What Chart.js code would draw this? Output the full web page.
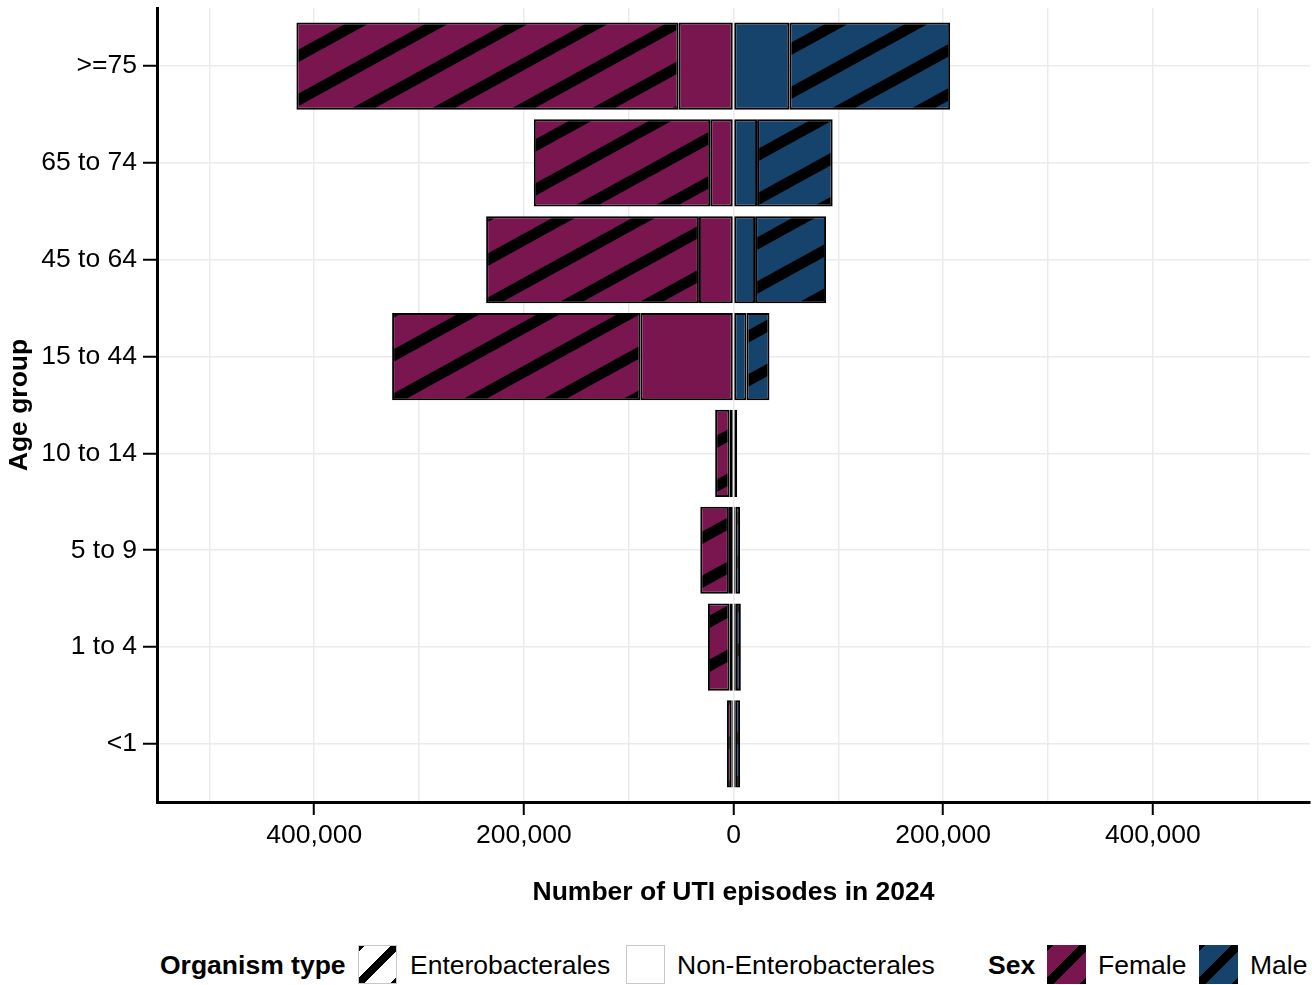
<!DOCTYPE html>
<html>
<head>
<meta charset="utf-8">
<script src="https://cdn.jsdelivr.net/npm/chart.js@4/dist/chart.umd.min.js"></script>
<style>
  body { margin: 0; background: #fff; font-family: "Liberation Sans", Arial, sans-serif; }
  #wrap { position: relative; width: 1312px; height: 985px; overflow: hidden; }
  #box { position: absolute; left: 0; top: 0; width: 1312px; height: 930px; }
  .lg { position: absolute; top: 945px; height: 40px; line-height: 40px; font-size: 26.5px; color: #000; white-space: nowrap; }
  .b { font-weight: bold; }
  .sw { position: absolute; top: 945px; width: 39px; height: 39px; box-sizing: border-box; }
</style>
</head>
<body>
<div id="wrap">
  <div id="box"><canvas id="myChart"></canvas></div>
  <span class="lg b" style="left:160px">Organism type</span>
  <div class="sw" style="left:358px;border:1px solid #c8c8c8;background:linear-gradient(to bottom right,#000 0 8%,#fff 8% 42%,#000 42% 58%,#fff 58% 92%,#000 92%)"></div>
  <span class="lg" style="left:410px">Enterobacterales</span>
  <div class="sw" style="left:626px;border:1px solid #c8c8c8;background:#fff"></div>
  <span class="lg" style="left:677px">Non-Enterobacterales</span>
  <span class="lg b" style="left:988px">Sex</span>
  <div class="sw" style="left:1047px;background:linear-gradient(to bottom right,#000 0 8%,#7a164f 8% 42%,#000 42% 58%,#7a164f 58% 92%,#000 92%)"></div>
  <span class="lg" style="left:1098px">Female</span>
  <div class="sw" style="left:1199px;background:linear-gradient(to bottom right,#000 0 8%,#16436b 8% 42%,#000 42% 58%,#16436b 58% 92%,#000 92%)"></div>
  <span class="lg" style="left:1250px">Male</span>
</div>
<script>
// age groups, bottom to top
const ages = ['<1', '1 to 4', '5 to 9', '10 to 14', '15 to 44', '45 to 64', '65 to 74', '>=75']

// number of UTI episodes (female drawn to the left)
const femaleNonEntero = [1700, 3800, 4400, 3800, 88900, 33000, 22200, 52400]
const femaleEntero = [4600, 20600, 27300, 13700, 236800, 203000, 168300, 364600]
const maleNonEntero = [1600, 2200, 1900, 800, 12400, 20600, 22500, 53300]
const maleEntero = [4700, 4800, 4400, 2700, 21900, 67700, 72100, 153400]

const xGridValues = [-500000, -400000, -300000, -200000, -100000, 0, 100000, 200000, 300000, 400000, 500000]

const femaleColor = '#7a164f'
const maleColor = '#16436b'
const fontFamily = '"Liberation Sans", Arial, sans-serif'

var ctx = document.getElementById('myChart').getContext('2d');

// diagonal stripes like the ggpattern fill
const makeHatch = color => {
  let tile = document.createElement('canvas')
  tile.width = 80
  tile.height = 44
  let g = tile.getContext('2d')
  g.fillStyle = color
  g.fillRect(0, 0, 80, 44)
  g.strokeStyle = '#000'
  g.lineWidth = 11
  ;[-1, 0, 1].forEach(k => {
    g.beginPath()
    g.moveTo(k * 80 - 40, 66)
    g.lineTo(k * 80 + 120, -22)
    g.stroke()
  })
  return ctx.createPattern(tile, 'repeat')
}

const toPoints = (values, sign) => values.map((v, i) => ({ y: i, x: sign * v }))

const barStyle = {
  borderColor: '#000',
  borderWidth: 2,
  borderSkipped: false,
  barPercentage: 0.9,
  categoryPercentage: 1
}

var chart = new Chart(ctx, {
  type: 'bar',
  data: {
    datasets: [
      Object.assign({ label: 'Female Non-Enterobacterales', data: toPoints(femaleNonEntero, -1), backgroundColor: femaleColor }, barStyle),
      Object.assign({ label: 'Female Enterobacterales', data: toPoints(femaleEntero, -1), backgroundColor: makeHatch(femaleColor) }, barStyle),
      Object.assign({ label: 'Male Non-Enterobacterales', data: toPoints(maleNonEntero, 1), backgroundColor: maleColor }, barStyle),
      Object.assign({ label: 'Male Enterobacterales', data: toPoints(maleEntero, 1), backgroundColor: makeHatch(maleColor) }, barStyle)
    ]
  },
  options: {
    indexAxis: 'y',
    responsive: true,
    maintainAspectRatio: false,
    animation: false,
    layout: { padding: { top: 8, right: 2, left: 0, bottom: 0 } },
    plugins: {
      legend: { display: false },
      tooltip: { enabled: false }
    },
    scales: {
      x: {
        type: 'linear',
        stacked: true,
        min: -550000,
        max: 550000,
        afterBuildTicks: scale => { scale.ticks = xGridValues.map(v => ({ value: v })) },
        afterFit: scale => {
          scale.height = 128
          scale.paddingLeft = 0
          scale.paddingRight = 0
        },
        ticks: {
          autoSkip: false,
          maxRotation: 0,
          padding: 5,
          color: '#000',
          font: { family: fontFamily, size: 26.5 },
          callback: v => v % 200000 === 0 ? Math.abs(v).toLocaleString('en-US') : ''
        },
        grid: {
          color: '#ebebeb',
          lineWidth: 1.5,
          tickLength: 13,
          tickWidth: 2,
          tickColor: c => (c.tick && c.tick.value % 200000 === 0) ? '#000' : 'rgba(0,0,0,0)'
        },
        border: { color: '#000', width: 3 },
        title: {
          display: true,
          text: 'Number of UTI episodes in 2024',
          color: '#000',
          font: { family: fontFamily, size: 26.5, weight: 'bold' },
          padding: { top: 0, bottom: 21 }
        }
      },
      y: {
        type: 'linear',
        stacked: true,
        min: -0.6,
        max: 7.6,
        offset: false,
        afterBuildTicks: scale => { scale.ticks = ages.map((a, i) => ({ value: i })) },
        afterFit: scale => {
          scale.width = 157
          scale.paddingTop = 0
          scale.paddingBottom = 0
        },
        ticks: {
          autoSkip: false,
          padding: 6,
          color: '#000',
          font: { family: fontFamily, size: 26.5 },
          callback: v => ages[v]
        },
        grid: {
          offset: false,
          color: '#ebebeb',
          lineWidth: 1.5,
          tickLength: 14,
          tickWidth: 2,
          tickColor: '#000'
        },
        border: { color: '#000', width: 3 },
        title: {
          display: true,
          text: 'Age group',
          color: '#000',
          font: { family: fontFamily, size: 26.5, weight: 'bold' },
          padding: { top: 4, bottom: 0 }
        }
      }
    }
  }
});
</script>
</body>
</html>
